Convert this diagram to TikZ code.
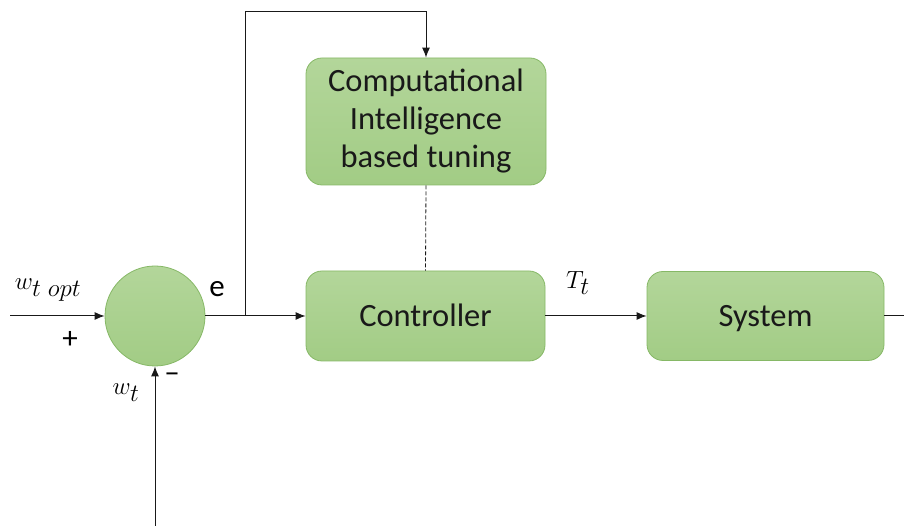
\documentclass[tikz,border=0pt]{standalone}
\usepackage{amsmath}
\usepackage{fontspec}
\setmainfont{Carlito}
\usepackage{xcolor}
\usepackage{tikz}
\usetikzlibrary{arrows.meta}

\definecolor{boxtop}{HTML}{B3D69A}
\definecolor{boxbot}{HTML}{A2CC85}
\definecolor{boxedge}{HTML}{86B866}

\begin{document}
\begin{tikzpicture}%
                    [x=1pt,
                    y=1pt,
                    block/.style={draw=boxedge,thick,top color=boxtop,bottom color=boxbot,rounded corners=16pt,
                                  minimum width=239pt,minimum height=90pt,inner sep=0pt,align=center,
                                  text=black!90,font=\fontsize{32.5}{38}\selectfont},
                    oneline/.style={text height=23pt,text depth=2pt},
                    sumnode/.style={circle,draw=boxedge,thick,top color=boxtop,bottom color=boxbot,
                                    minimum size=100pt,inner sep=0pt},
                    wire/.style={color=black!90,line width=1pt},
                    arrow/.style={wire,-{Latex[length=10pt,width=8pt]}},
                    sign/.style={font=\fontsize{31}{36}\selectfont,inner sep=0pt},
                    signal/.style={font=\fontsize{35}{40}\selectfont,inner sep=0pt}]

                \useasboundingbox (0,0) rectangle (904,526);
                %% Drawing the blocks
                \node[sumnode] (sum) at (155,210) {};
                \node[block,oneline] (ctrl) at (425.5,210) {Controller};
                \node[block,minimum width=240pt,minimum height=127pt] (tune) at (426,404.5) {Computational\\Intelligence\\based tuning};
                \node[block,oneline,minimum width=237pt,minimum height=89pt] (sys) at (765.5,210) {System};
                %%
                %% Free ends of the connectors
                %%
                \coordinate (ref) at (10,210);
                \coordinate (meas) at (155,0);
                \coordinate (out) at (904,210);
                \coordinate (split) at (245,210);
                \coordinate (fbk) at (245,514);
                %%
                %% Drawing the connectors
                %%
                \draw[arrow] (ref) -- (sum.west);
                \draw[arrow] (meas) -- (sum.south);
                \draw[arrow] (sum.east) -- (ctrl.west);
                \draw[arrow] (split) -- (fbk) -| (tune.north);
                \draw[wire,line width=0.8pt,dash pattern=on 4pt off 2pt] (tune.south) -- (ctrl.north);
                \draw[arrow] (ctrl.east) -- (sys.west);
                \draw[wire] (sys.east) -- (out);
                %%
                %% Drawing the labels
                %%
                \node[signal] (wopt) at (48,236) {$w_{t\;opt}$};
                \node[sign] (plus) at (70,186) {+};
                \node[signal] (wt) at (126,133) {$w_t$};
                \node[sign] (minus) at (172,148) {\textendash};
                \node[sign] (err) at (217,237) {e};
                \node[signal] (tt) at (578,243) {$T_t$};
                %%
                %%
\end{tikzpicture}
\end{document}
